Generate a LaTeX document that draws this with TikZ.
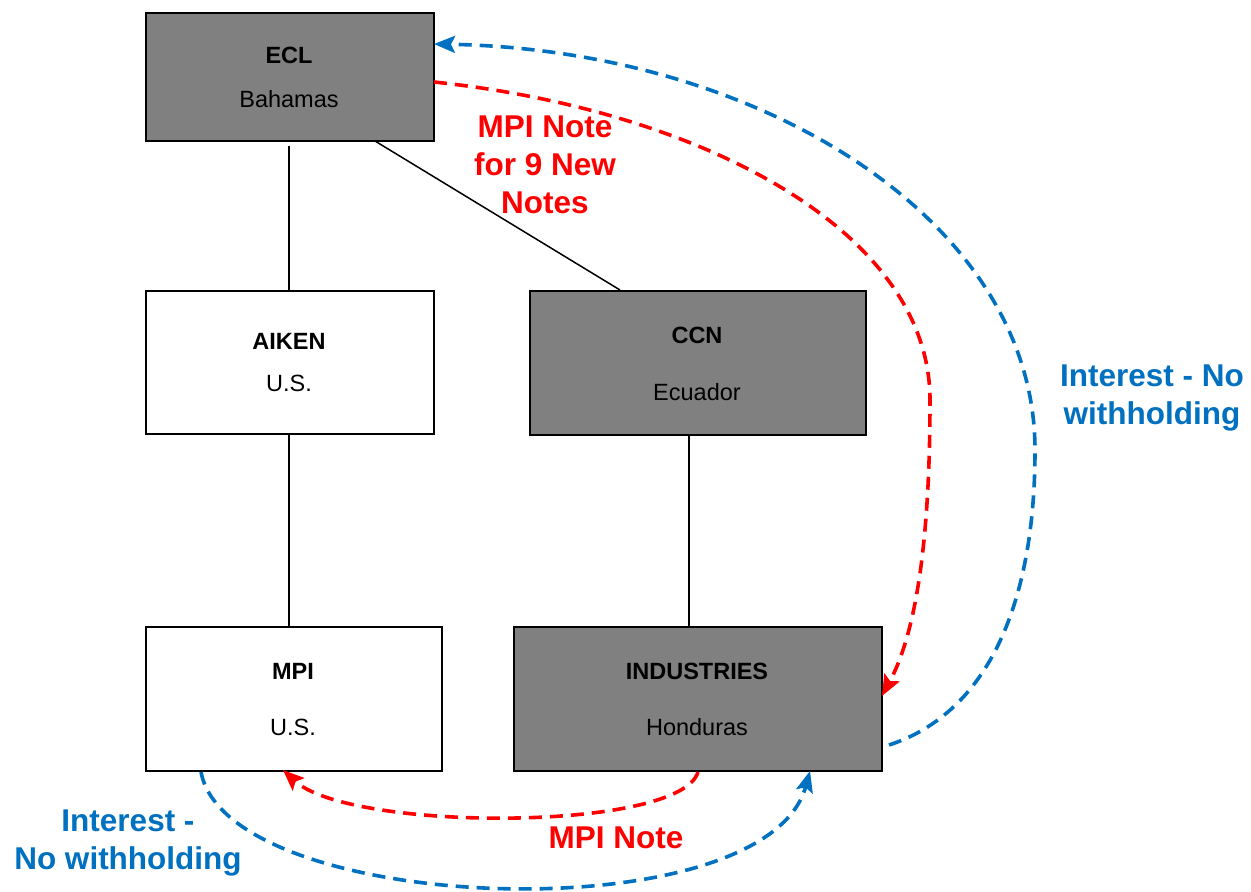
\documentclass[tikz,border=0pt]{standalone}
\usepackage{fontspec}
\setmainfont{Liberation Sans}
\usetikzlibrary{arrows.meta}
\definecolor{boxgray}{RGB}{128,128,128}
\definecolor{flowblue}{RGB}{0,112,192}
\definecolor{flowred}{RGB}{255,0,0}
\begin{document}
\begin{tikzpicture}[x=1pt,y=-1pt,
  entity/.style={draw=black,line width=2pt,inner sep=0pt,anchor=north west},
  darkbox/.style={entity,fill=boxgray},
  lightbox/.style={entity,fill=white},
  boxtext/.style={inner sep=0pt,font=\fontsize{23.5}{27}\selectfont},
  boxtitle/.style={boxtext,font=\fontsize{23.5}{27}\selectfont\bfseries},
  link/.style={draw=black,line width=1.5pt},
  flowtip/.style={-{Stealth[length=21pt,width=17pt,inset=4pt]}},
  redflow/.style={draw=flowred,line width=3.6pt,dash pattern=on 13pt off 8pt,flowtip},
  blueflow/.style={draw=flowblue,line width=3.6pt,dash pattern=on 13pt off 8pt,flowtip},
  lbl/.style={align=center,inner sep=0pt,font=\fontsize{31.5}{38}\selectfont\bfseries}
]
\useasboundingbox (0,0) rectangle (1251,892);

% boxes
\node[darkbox,minimum width=288pt,minimum height=128pt] (ecl) at (145,12) {};
\node[lightbox,minimum width=288pt,minimum height=143pt] (aiken) at (145,290) {};
\node[darkbox,minimum width=336pt,minimum height=144pt] (ccn) at (529,290) {};
\node[lightbox,minimum width=296pt,minimum height=144pt] (mpi) at (145,626) {};
\node[darkbox,minimum width=368pt,minimum height=144pt] (ind) at (513,626) {};

% box texts
\node[boxtitle] (eclT) at (289,55) {ECL};
\node[boxtext] (eclS) at (289,99) {Bahamas};
\node[boxtitle] (aikenT) at (289,341) {AIKEN};
\node[boxtext] (aikenS) at (289,383) {U.S.};
\node[boxtitle] (ccnT) at (697,335) {CCN};
\node[boxtext] (ccnS) at (697,392) {Ecuador};
\node[boxtitle] (mpiT) at (293,671) {MPI};
\node[boxtext] (mpiS) at (293,727) {U.S.};
\node[boxtitle] (indT) at (697,671) {INDUSTRIES};
\node[boxtext] (indS) at (697,727) {Honduras};

% ownership lines
\coordinate (e1) at (289,146);
\coordinate (a1) at (289,290);
\coordinate (e2) at (375,141);
\coordinate (c1) at (620,290);
\coordinate (a2) at (289,433);
\coordinate (m1) at (289,626);
\coordinate (c2) at (689,434);
\coordinate (i1) at (689,626);
\draw[link] (e1) -- (a1);
\draw[link] (e2) -- (c1);
\draw[link] (a2) -- (m1);
\draw[link] (c2) -- (i1);

% flows
\coordinate (rs) at (434,82);
\coordinate (re) at (882,696);
\draw[redflow] (rs) .. controls (700,110) and (930,230) .. (930,400)
   .. controls (930,560) and (912,640) .. (re);

\coordinate (bs) at (889,745);
\coordinate (be) at (434,44);
\draw[blueflow] (bs) .. controls (990,712) and (1035,600) .. (1035,450)
   .. controls (1035,220) and (760,50) .. (be);

\coordinate (rbs) at (698,772);
\coordinate (rbe) at (283,770);
\draw[redflow] (rbs) .. controls (680,832) and (350,832) .. (rbe);

\coordinate (bbs) at (201,772);
\coordinate (bbe) at (810,771);
\draw[blueflow] (bbs) .. controls (228,915) and (765,935) .. (bbe);

% labels
\node[lbl,text=flowred] (lblA) at (545,165) {MPI Note\\for 9 New\\Notes};
\node[lbl,text=flowblue] (lblB) at (1152,398) {Interest - No\\withholding};
\node[lbl,text=flowblue] (lblC) at (128,843) {Interest -\\No withholding};
\node[lbl,text=flowred] (lblD) at (616,838) {MPI Note};
\end{tikzpicture}
\end{document}
